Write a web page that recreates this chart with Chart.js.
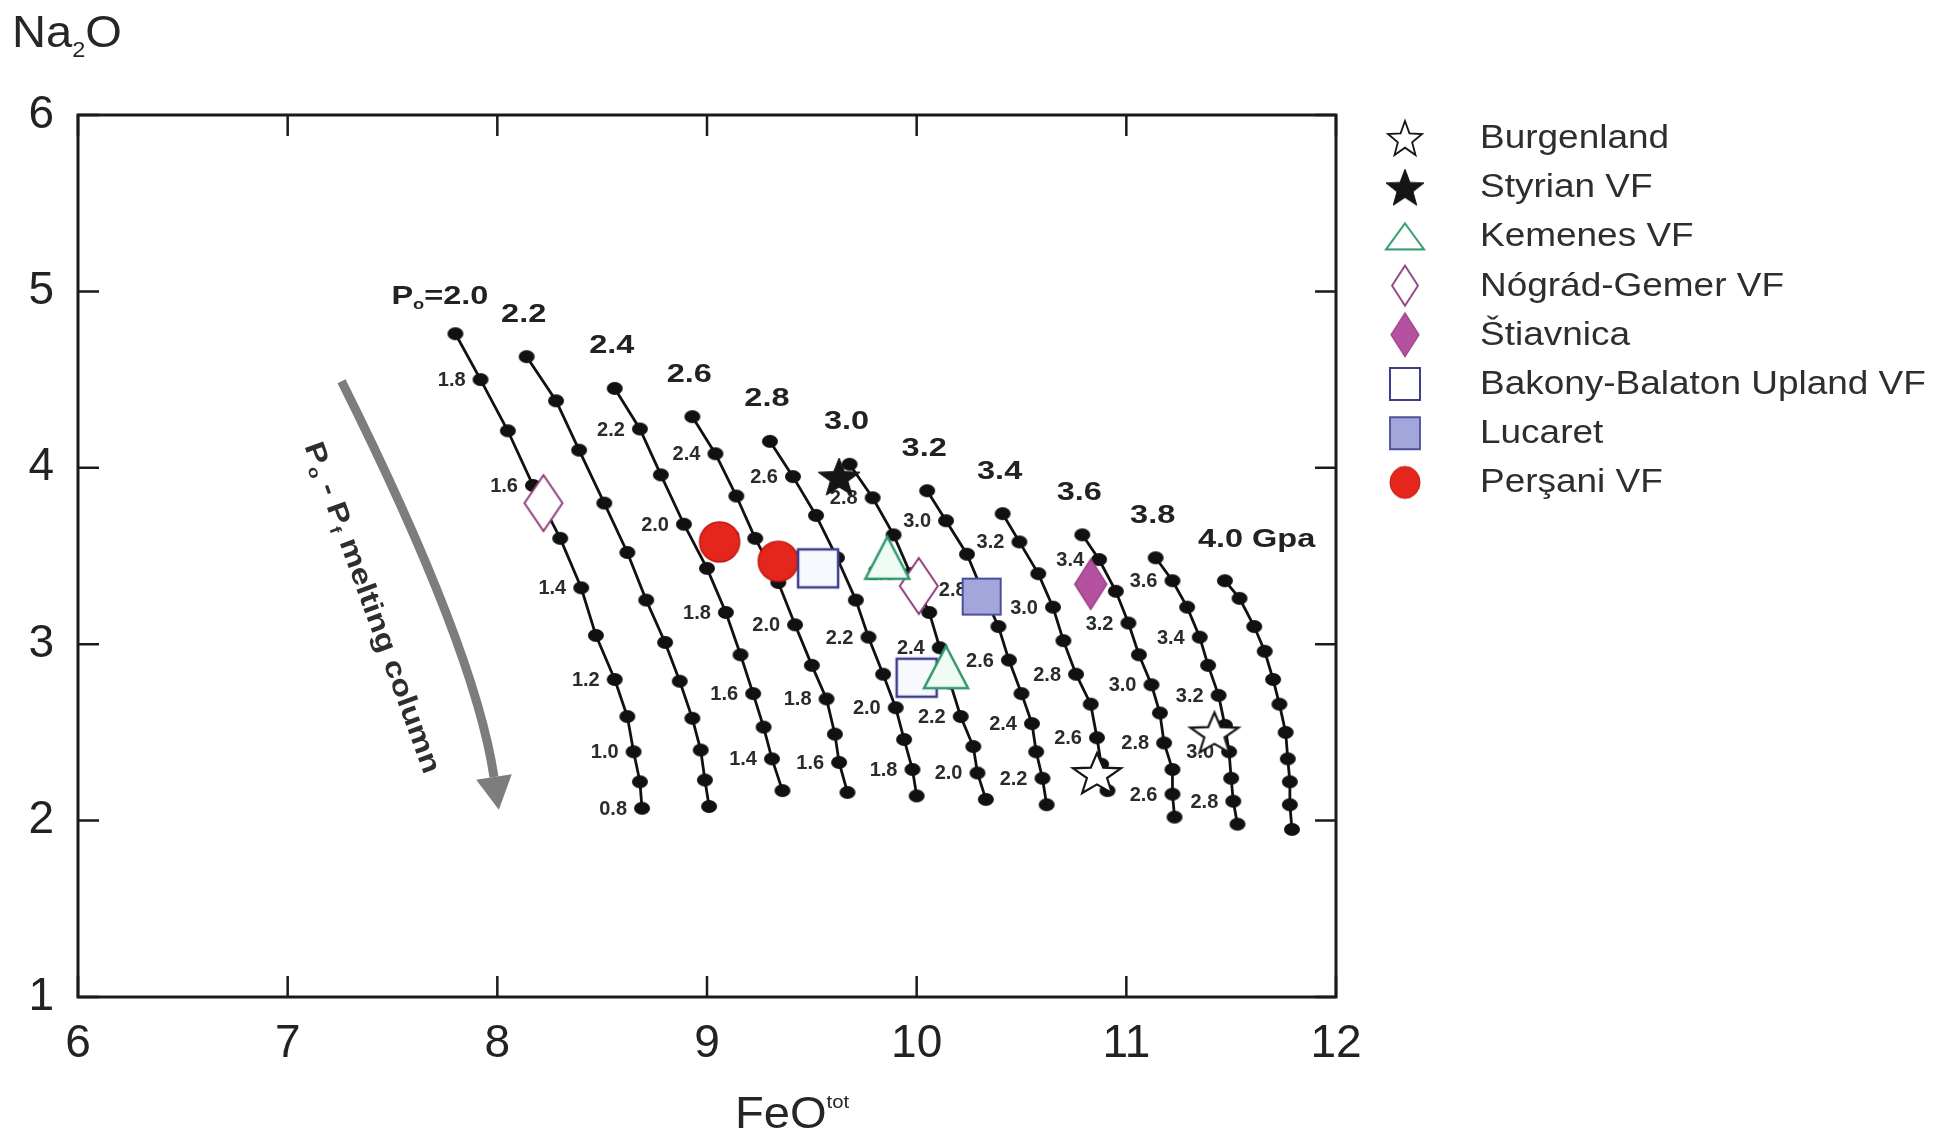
<!DOCTYPE html>
<html>
<head>
<meta charset="utf-8">
<title>Na2O vs FeOtot melting columns</title>
<script src="https://cdn.jsdelivr.net/npm/chart.js@4.4.1/dist/chart.umd.min.js"></script>
<style>
    html, body { margin: 0; padding: 0; background: #ffffff; }
    #wrap { position: relative; width: 1954px; height: 1143px; }
</style>
</head>
<body>
<div id="wrap"><canvas id="meltChart"></canvas></div>
<script>
// axis ticks
const feoTicks = [6, 7, 8, 9, 10, 11, 12];
const na2oTicks = [1, 2, 3, 4, 5, 6];

// starting pressure of each melting column (GPa)
const p0Values = ["2.0", "2.2", "2.4", "2.6", "2.8", "3.0", "3.2", "3.4", "3.6", "3.8", "4.0"];

// melting paths [FeOtot, Na2O], from P0 down the column
const path20 = [[7.80, 4.76], [7.92, 4.50], [8.05, 4.21], [8.17, 3.90], [8.30, 3.60], [8.40, 3.32], [8.47, 3.05], [8.56, 2.80], [8.62, 2.59], [8.65, 2.39], [8.68, 2.22], [8.69, 2.07]];
const path22 = [[8.14, 4.63], [8.28, 4.38], [8.39, 4.10], [8.51, 3.80], [8.62, 3.52], [8.71, 3.25], [8.80, 3.01], [8.87, 2.79], [8.93, 2.58], [8.97, 2.40], [8.99, 2.23], [9.01, 2.08]];
const path24 = [[8.56, 4.45], [8.68, 4.22], [8.78, 3.96], [8.89, 3.68], [9.00, 3.43], [9.09, 3.18], [9.16, 2.94], [9.22, 2.72], [9.27, 2.53], [9.31, 2.35], [9.36, 2.17]];
const path26 = [[8.93, 4.29], [9.04, 4.08], [9.14, 3.84], [9.23, 3.60], [9.34, 3.35], [9.42, 3.11], [9.50, 2.88], [9.57, 2.69], [9.61, 2.49], [9.63, 2.33], [9.67, 2.16]];
const path28 = [[9.30, 4.15], [9.41, 3.95], [9.52, 3.73], [9.62, 3.49], [9.71, 3.25], [9.77, 3.04], [9.84, 2.83], [9.90, 2.64], [9.94, 2.46], [9.98, 2.29], [10.00, 2.14]];
const path30 = [[9.68, 4.02], [9.79, 3.83], [9.89, 3.62], [9.97, 3.40], [10.06, 3.18], [10.11, 2.98], [10.16, 2.78], [10.21, 2.59], [10.27, 2.42], [10.29, 2.27], [10.33, 2.12]];
const path32 = [[10.05, 3.87], [10.14, 3.70], [10.24, 3.51], [10.31, 3.31], [10.39, 3.10], [10.44, 2.91], [10.50, 2.72], [10.55, 2.55], [10.57, 2.39], [10.60, 2.24], [10.62, 2.09]];
const path34 = [[10.41, 3.74], [10.49, 3.58], [10.58, 3.40], [10.65, 3.21], [10.70, 3.02], [10.76, 2.83], [10.83, 2.66], [10.86, 2.47], [10.88, 2.32], [10.91, 2.17]];
const path36 = [[10.79, 3.62], [10.87, 3.48], [10.95, 3.30], [11.01, 3.12], [11.06, 2.94], [11.12, 2.77], [11.16, 2.61], [11.18, 2.44], [11.22, 2.29], [11.22, 2.15], [11.23, 2.02]];
const path38 = [[11.14, 3.49], [11.22, 3.36], [11.29, 3.21], [11.35, 3.04], [11.39, 2.88], [11.44, 2.71], [11.47, 2.54], [11.49, 2.39], [11.50, 2.24], [11.51, 2.11], [11.53, 1.98]];
const path40 = [[11.47, 3.36], [11.54, 3.26], [11.61, 3.10], [11.66, 2.96], [11.70, 2.80], [11.73, 2.66], [11.76, 2.50], [11.77, 2.35], [11.78, 2.22], [11.78, 2.09], [11.79, 1.95]];

// final pressure Pf written next to some points: [point index, text]
const pf20 = [[1, "1.8"], [3, "1.6"], [5, "1.4"], [7, "1.2"], [9, "1.0"], [11, "0.8"]];
const pf22 = [];
const pf24 = [[1, "2.2"], [3, "2.0"], [5, "1.8"], [7, "1.6"], [9, "1.4"]];
const pf26 = [[1, "2.4"], [3, "2.2"], [5, "2.0"], [7, "1.8"], [9, "1.6"]];
const pf28 = [[1, "2.6"], [3, "2.4"], [5, "2.2"], [7, "2.0"], [9, "1.8"]];
const pf30 = [[1, "2.8"], [3, "2.6"], [5, "2.4"], [7, "2.2"], [9, "2.0"]];
const pf32 = [[1, "3.0"], [3, "2.8"], [5, "2.6"], [7, "2.4"], [9, "2.2"]];
const pf34 = [[1, "3.2"], [3, "3.0"], [5, "2.8"], [7, "2.6"]];
const pf36 = [[1, "3.4"], [3, "3.2"], [5, "3.0"], [7, "2.8"], [9, "2.6"]];
const pf38 = [[1, "3.6"], [3, "3.4"], [5, "3.2"], [7, "3.0"], [9, "2.8"]];
const pf40 = [];

// samples [FeOtot, Na2O]
const burgenland = [[10.86, 2.27], [11.42, 2.50]];
const styrian = [[9.63, 3.95]];
const kemenes = [[9.86, 3.49], [10.14, 2.87]];
const nograd = [[8.22, 3.80], [10.01, 3.33]];
const stiavnica = [[10.83, 3.34]];
const bakony = [[9.53, 3.43], [10.00, 2.81]];
const lucaret = [[10.31, 3.27]];
const persani = [[9.06, 3.58], [9.34, 3.47]];

// melting column arrow (start, bend, head base) and its caption anchor
const arrowPath = [[7.257, 4.49], [7.892, 2.978], [7.984, 2.247]];
const arrowCaption = [7.41, 3.21];

const meltPaths = [path20, path22, path24, path26, path28, path30, path32, path34, path36, path38, path40];
const pfLabels = [pf20, pf22, pf24, pf26, pf28, pf30, pf32, pf34, pf36, pf38, pf40];

const FONT = '"Liberation Sans", Arial, sans-serif';

function markerCanvas(shape, hw, hh, fill, stroke, lw) {
    const pad = Math.ceil(lw) + 2;
    const c = document.createElement("canvas");
    c.width = Math.ceil(2 * hw + 2 * pad);
    c.height = Math.ceil(2 * hh + 2 * pad);
    const g = c.getContext("2d");
    const cx = c.width / 2;
    const cy = c.height / 2;
    g.beginPath();
    if (shape === "star") {
        // unit star: outer radius 1, bbox width 1.902, height 1.809
        const sx = hw / Math.cos(Math.PI / 10);
        const sy = hh / 0.9045;
        const oy = cy + 0.0955 * sy;
        for (let i = 0; i < 10; i++) {
            const r = i % 2 ? 0.42 : 1;
            const a = -Math.PI / 2 + (i * Math.PI) / 5;
            g.lineTo(cx + r * sx * Math.cos(a), oy + r * sy * Math.sin(a));
        }
        g.closePath();
    } else if (shape === "triangle") {
        g.moveTo(cx, cy - hh);
        g.lineTo(cx + hw, cy + hh);
        g.lineTo(cx - hw, cy + hh);
        g.closePath();
    } else if (shape === "diamond") {
        g.moveTo(cx, cy - hh);
        g.lineTo(cx + hw, cy);
        g.lineTo(cx, cy + hh);
        g.lineTo(cx - hw, cy);
        g.closePath();
    } else if (shape === "square") {
        g.rect(cx - hw, cy - hh, 2 * hw, 2 * hh);
    } else {
        g.ellipse(cx, cy, hw, hh, 0, 0, Math.PI * 2);
    }
    g.fillStyle = fill;
    g.fill();
    if (lw > 0) {
        g.lineWidth = lw;
        g.strokeStyle = stroke;
        g.lineJoin = "miter";
        g.stroke();
    }
    return c;
}

function runsWidth(ctx, runs) {
    return runs.reduce(function (w, r) {
        ctx.font = r.font;
        return w + ctx.measureText(r.text).width;
    }, 0);
}

// text pieces drawn side by side, squeezed or widened by sx
function drawRuns(ctx, runs, x, y, sx, align) {
    const w = runsWidth(ctx, runs) * sx;
    const left = align === "center" ? x - w / 2 : align === "right" ? x - w : x;
    ctx.save();
    ctx.translate(left, y);
    ctx.scale(sx, 1);
    ctx.textAlign = "left";
    let cx = 0;
    runs.forEach(function (r) {
        ctx.font = r.font;
        ctx.fillText(r.text, cx, r.dy || 0);
        cx += ctx.measureText(r.text).width;
    });
    ctx.restore();
}

const dotMarker = markerCanvas("circle", 8, 6.4, "#111111", "#111111", 0);

const sampleSeries = [
    { label: "Burgenland", data: burgenland,
      marker: markerCanvas("star", 24, 20, "#ffffff", "#151515", 2.2),
      legendMarker: markerCanvas("star", 17, 17, "#ffffff", "#151515", 1.8) },
    { label: "Styrian VF", data: styrian,
      marker: markerCanvas("star", 21, 18.5, "#151515", "#151515", 1),
      legendMarker: markerCanvas("star", 19, 18, "#151515", "#151515", 1) },
    { label: "Kemenes VF", data: kemenes,
      marker: markerCanvas("triangle", 22, 21, "#f1fbf5", "#2f9a6b", 2.5),
      legendMarker: markerCanvas("triangle", 19, 13, "#ffffff", "#2f9a6b", 2) },
    { label: "Nógrád-Gemer VF", data: nograd,
      marker: markerCanvas("diamond", 19, 28, "#ffffff", "#8b3d7d", 2),
      legendMarker: markerCanvas("diamond", 13, 20, "#ffffff", "#8b3d7d", 1.8) },
    { label: "Štiavnica", data: stiavnica,
      marker: markerCanvas("diamond", 16, 25, "#b5529f", "#9b3d88", 1.5),
      legendMarker: markerCanvas("diamond", 14, 22, "#b5529f", "#9b3d88", 1.2) },
    { label: "Bakony-Balaton Upland VF", data: bakony,
      marker: markerCanvas("square", 20, 19, "#f8f8ff", "#3d3f8e", 2.5),
      legendMarker: markerCanvas("square", 15, 16, "#ffffff", "#3d3f8e", 2) },
    { label: "Lucaret", data: lucaret,
      marker: markerCanvas("square", 19, 18, "#a3a6da", "#4c4f98", 2),
      legendMarker: markerCanvas("square", 15, 16, "#a3a6da", "#4c4f98", 1.8) },
    { label: "Perşani VF", data: persani,
      marker: markerCanvas("circle", 20, 20, "#e5261c", "#c0170f", 1.5),
      legendMarker: markerCanvas("circle", 15, 16, "#e5261c", "#c0170f", 1) },
];

function toXY(pts) {
    return pts.map(function (p) { return { x: p[0], y: p[1] }; });
}

const pathDatasets = meltPaths.map(function (path, i) {
    return {
        label: "P0 = " + p0Values[i] + " GPa",
        data: toXY(path),
        showLine: true,
        borderColor: "#111111",
        borderWidth: 2.8,
        tension: 0,
        pointStyle: dotMarker,
        pointRadius: 8,
        order: 1,
    };
});

const sampleDatasets = sampleSeries.map(function (s) {
    return {
        label: s.label,
        data: toXY(s.data),
        showLine: false,
        pointStyle: s.marker,
        pointRadius: 20,
        order: 0,
        isSample: true,
        legendMarker: s.legendMarker,
    };
});

// arrow, P0/Pf labels: painted under the datasets so markers cover them
const columnNotes = {
    id: "columnNotes",
    beforeDatasetsDraw(chart) {
        const ctx = chart.ctx;
        const xs = chart.scales.x;
        const ys = chart.scales.y;
        const px = function (p) { return [xs.getPixelForValue(p[0]), ys.getPixelForValue(p[1])]; };

        // grey arrow down the melting column
        const a0 = px(arrowPath[0]);
        const a1 = px(arrowPath[1]);
        const a2 = px(arrowPath[2]);
        ctx.save();
        ctx.strokeStyle = "#7d7d7d";
        ctx.fillStyle = "#7d7d7d";
        ctx.lineWidth = 9;
        ctx.beginPath();
        ctx.moveTo(a0[0], a0[1]);
        ctx.quadraticCurveTo(a1[0], a1[1], a2[0], a2[1]);
        ctx.stroke();
        const dx = a2[0] - a1[0];
        const dy = a2[1] - a1[1];
        const len = Math.hypot(dx, dy);
        const ux = dx / len;
        const uy = dy / len;
        ctx.beginPath();
        ctx.moveTo(a2[0] + 33 * ux, a2[1] + 33 * uy);
        ctx.lineTo(a2[0] + 18 * uy, a2[1] - 18 * ux);
        ctx.lineTo(a2[0] - 18 * uy, a2[1] + 18 * ux);
        ctx.closePath();
        ctx.fill();

        // caption along the arrow
        const cap = px(arrowCaption);
        ctx.fillStyle = "#2e2e2e";
        ctx.textBaseline = "alphabetic";
        ctx.translate(cap[0], cap[1]);
        ctx.rotate((70 * Math.PI) / 180);
        drawRuns(ctx, [
            { text: "P", font: "bold 28px " + FONT },
            { text: "o", font: "bold 16px " + FONT, dy: 5 },
            { text: " - P", font: "bold 28px " + FONT },
            { text: "f", font: "bold 16px " + FONT, dy: 5 },
            { text: " melting column", font: "bold 28px " + FONT },
        ], 0, 10, 1.2, "center");
        ctx.restore();

        // Pf values beside the points
        ctx.save();
        ctx.font = "bold 20px " + FONT;
        ctx.fillStyle = "#2b2b2b";
        ctx.textAlign = "right";
        ctx.textBaseline = "middle";
        meltPaths.forEach(function (path, i) {
            pfLabels[i].forEach(function (lab) {
                const p = px(path[lab[0]]);
                ctx.fillText(lab[1], p[0] - 15, p[1] + 1);
            });
        });

        // P0 values over the top of each path
        ctx.fillStyle = "#222222";
        ctx.textBaseline = "alphabetic";
        const big = "bold 25px " + FONT;
        meltPaths.forEach(function (path, i) {
            const p = px(path[0]);
            if (i === 0) {
                drawRuns(ctx, [
                    { text: "P", font: big },
                    { text: "o", font: "bold 14px " + FONT, dy: 5 },
                    { text: "=" + p0Values[i], font: big },
                ], p[0] + 33, p[1] - 30, 1.3, "right");
            } else if (i === meltPaths.length - 1) {
                drawRuns(ctx, [{ text: p0Values[i] + " Gpa", font: big }], p[0] - 27, p[1] - 34, 1.3, "left");
            } else {
                drawRuns(ctx, [{ text: p0Values[i], font: big }], p[0] - 3, p[1] - 35, 1.3, "center");
            }
        });
        ctx.restore();
    },
};

// box frame with inward ticks on all four sides
const frameTicks = {
    id: "frameTicks",
    afterDatasetsDraw(chart) {
        const ctx = chart.ctx;
        const area = chart.chartArea;
        const xs = chart.scales.x;
        const ys = chart.scales.y;
        ctx.save();
        ctx.strokeStyle = "#1a1a1a";
        ctx.lineWidth = 2.5;
        ctx.beginPath();
        feoTicks.forEach(function (v) {
            const x = xs.getPixelForValue(v);
            ctx.moveTo(x, area.bottom);
            ctx.lineTo(x, area.bottom - 21);
            ctx.moveTo(x, area.top);
            ctx.lineTo(x, area.top + 21);
        });
        na2oTicks.forEach(function (v) {
            const y = ys.getPixelForValue(v);
            ctx.moveTo(area.left, y);
            ctx.lineTo(area.left + 21, y);
            ctx.moveTo(area.right, y);
            ctx.lineTo(area.right - 21, y);
        });
        ctx.stroke();
        ctx.lineWidth = 3;
        ctx.strokeRect(area.left, area.top, area.right - area.left, area.bottom - area.top);
        ctx.restore();
    },
};

// axis titles and the symbol key on the right
const titlesAndKey = {
    id: "titlesAndKey",
    afterDraw(chart) {
        const ctx = chart.ctx;
        const area = chart.chartArea;
        ctx.save();
        ctx.fillStyle = "#262626";
        ctx.textBaseline = "alphabetic";
        drawRuns(ctx, [
            { text: "Na", font: "44px " + FONT },
            { text: "2", font: "22px " + FONT, dy: 10 },
            { text: "O", font: "44px " + FONT },
        ], 12, 47, 1.07, "left");
        drawRuns(ctx, [
            { text: "FeO", font: "44px " + FONT },
            { text: "tot", font: "19px " + FONT, dy: -20 },
        ], area.left + 657, 1128, 1.07, "left");

        const items = chart.data.datasets.filter(function (d) { return d.isSample; });
        ctx.fillStyle = "#2e2e2e";
        ctx.textBaseline = "middle";
        items.forEach(function (d, i) {
            const rowY = area.top + 23 + i * 49.2;
            const m = d.legendMarker;
            ctx.drawImage(m, area.right + 69 - m.width / 2, rowY - m.height / 2);
            drawRuns(ctx, [{ text: d.label, font: "33px " + FONT }], area.right + 144, rowY + 1, 1.12, "left");
        });
        ctx.restore();
    },
};

new Chart(document.getElementById("meltChart"), {
    type: "scatter",
    data: { datasets: pathDatasets.concat(sampleDatasets) },
    options: {
        responsive: true,
        maintainAspectRatio: false,
        animation: false,
        events: [],
        layout: { padding: { left: 0, top: 115, right: 618, bottom: 63 } },
        plugins: {
            legend: { display: false },
            tooltip: { enabled: false },
        },
        scales: {
            x: {
                type: "linear",
                min: 6,
                max: 12,
                afterBuildTicks: function (scale) {
                    scale.ticks = feoTicks.map(function (v) { return { value: v }; });
                },
                afterFit: function (scale) { scale.height = 83; },
                ticks: { font: { family: FONT, size: 46 }, color: "#222222", padding: 20, maxRotation: 0 },
                grid: { display: false, drawTicks: false },
                border: { display: false },
            },
            y: {
                type: "linear",
                min: 1,
                max: 6,
                afterBuildTicks: function (scale) {
                    scale.ticks = na2oTicks.map(function (v) { return { value: v }; });
                },
                afterFit: function (scale) { scale.width = 78; },
                ticks: { font: { family: FONT, size: 46 }, color: "#222222", padding: 24 },
                grid: { display: false, drawTicks: false },
                border: { display: false },
            },
        },
    },
    plugins: [columnNotes, frameTicks, titlesAndKey],
});
</script>
</body>
</html>
